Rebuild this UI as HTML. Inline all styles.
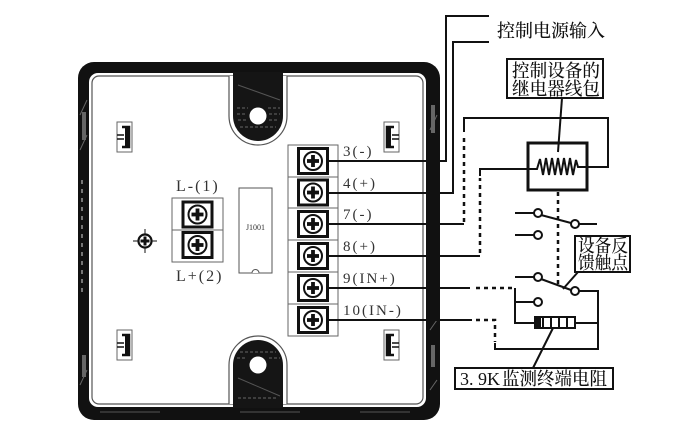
<!DOCTYPE html>
<html><head><meta charset="utf-8"><style>
html,body{margin:0;padding:0;background:#fff;width:700px;height:436px;overflow:hidden}
svg{display:block}
.lbl{font-family:"Liberation Serif","Noto Serif CJK SC",serif;font-size:15px;fill:#333;letter-spacing:2px}
.cn{font-family:"Liberation Serif","Noto Serif CJK SC",serif;font-size:18px;fill:#111;font-weight:500}
</style></head><body>
<svg width="700" height="436" viewBox="0 0 700 436" xmlns="http://www.w3.org/2000/svg">
<defs>
<g id="scr">
<rect x="-14.5" y="-12.5" width="29" height="25" fill="#fff" stroke="#111" stroke-width="3"/>
<circle r="9" fill="#fff" stroke="#111" stroke-width="2"/>
<rect x="-6" y="-1.9" width="12" height="3.8" fill="#111"/>
<rect x="-1.9" y="-6" width="3.8" height="12" fill="#111"/>
</g>
<g id="clipL">
<rect x="0" y="0" width="15" height="30" fill="#fff" stroke="#666" stroke-width="1"/>
<path d="M5,5 H12 V25 H5" fill="none" stroke="#111" stroke-width="2.5"/>
<rect x="8" y="6" width="3" height="18" fill="#111"/>
<path d="M0,13 H7 M0,17 H7" stroke="#111" stroke-width="1.5"/>
</g>
<g id="clipR">
<rect x="0" y="0" width="15" height="30" fill="#fff" stroke="#666" stroke-width="1"/>
<path d="M10,5 H3 V25 H10" fill="none" stroke="#111" stroke-width="2.5"/>
<rect x="4" y="6" width="3" height="18" fill="#111"/>
<path d="M8,13 H15 M8,17 H15" stroke="#111" stroke-width="1.5"/>
</g>
</defs>

<!-- Case -->
<rect x="78" y="62" width="362" height="358" rx="16" fill="#111"/>
<rect x="89" y="73" width="337" height="334" rx="9" fill="#fff"/>
<rect x="92" y="76" width="331" height="328" rx="7" fill="none" stroke="#555" stroke-width="1.2"/>
<!-- band decorations -->
<path d="M82,180 V297" stroke="#bbb" stroke-width="1.2" stroke-dasharray="4,5"/>
<path d="M80,115 L87,100 M80,150 L87,135 M80,385 L87,370 M430,130 L437,115 M430,330 L437,320 M430,390 L437,380" stroke="#666" stroke-width="1"/>
<rect x="82" y="112" width="4" height="28" fill="#666"/>
<rect x="82" y="355" width="4" height="22" fill="#666"/>
<rect x="431" y="105" width="4" height="28" fill="#666"/>
<rect x="431" y="345" width="4" height="22" fill="#666"/>
<path d="M100,412 H160 M240,412 H300 M360,412 H410" stroke="#555" stroke-width="1"/>

<!-- top tab -->
<path d="M229,76 V116 A29,29 0 0 0 287,116 V76" fill="#fff" stroke="#555" stroke-width="1.2"/>
<path d="M233,72 V116 A25,25 0 0 0 283,116 V72 Z" fill="#151515"/>
<path d="M238,85 L280,100" stroke="#555" stroke-width="1"/>
<path d="M237,108 H248 M268,108 H280 M237,114 H247 M269,114 H280 M238,120 H247 M269,120 H279 M240,127 H276" stroke="#666" stroke-width="1" stroke-dasharray="3,2"/>
<circle cx="258" cy="116" r="8.5" fill="#fff"/>
<!-- bottom tab -->
<path d="M229,404 V365 A29,29 0 0 1 287,365 V404" fill="#fff" stroke="#555" stroke-width="1.2"/>
<path d="M233,408 V365 A25,25 0 0 1 283,365 V408 Z" fill="#151515"/>
<path d="M238,378 L280,396" stroke="#555" stroke-width="1"/>
<path d="M240,352 H276 M237,358 H247 M269,358 H280 M238,398 H278" stroke="#666" stroke-width="1" stroke-dasharray="3,2"/>
<circle cx="258" cy="365" r="8.5" fill="#fff"/>

<!-- clips -->
<use href="#clipL" x="117" y="122"/>
<use href="#clipL" x="117" y="330"/>
<use href="#clipR" x="384" y="122"/>
<use href="#clipR" x="384" y="330"/>

<!-- crosshair -->
<path d="M133,241 H157 M145,229 V253" stroke="#111" stroke-width="1"/>
<circle cx="145" cy="241" r="6.5" fill="#fff" stroke="#111" stroke-width="2.2"/>
<rect x="140.5" y="239.5" width="9" height="3" fill="#111"/>
<rect x="143.5" y="236.5" width="3" height="9" fill="#111"/>

<!-- left terminal block -->
<rect x="172" y="198" width="51" height="64" fill="#fff" stroke="#666" stroke-width="1"/>
<path d="M172,230 H223" stroke="#666" stroke-width="1"/>
<use href="#scr" x="197.5" y="214.5"/>
<use href="#scr" x="197.5" y="245"/>
<text x="176" y="191" class="lbl" style="font-size:16px">L-(1)</text>
<text x="176" y="281" class="lbl" style="font-size:16px">L+(2)</text>

<!-- J1001 -->
<rect x="239" y="188" width="33" height="85" fill="#fff" stroke="#555" stroke-width="1"/>
<path d="M252,273 A3.5,3.5 0 0 1 259,273" fill="#fff" stroke="#555" stroke-width="1"/>
<text x="255.5" y="230" text-anchor="middle" style="font-family:'Liberation Serif',serif;font-size:8px;fill:#333">J1001</text>

<!-- right terminal block -->
<rect x="288" y="145" width="50" height="191" fill="#fff" stroke="#666" stroke-width="1"/>
<path d="M288,177 H338 M288,208 H338 M288,240 H338 M288,272 H338 M288,304 H338" stroke="#666" stroke-width="1"/>
<use href="#scr" x="313" y="161"/>
<use href="#scr" x="313" y="192.5"/>
<use href="#scr" x="313" y="224"/>
<use href="#scr" x="313" y="256"/>
<use href="#scr" x="313" y="288"/>
<use href="#scr" x="313" y="320"/>
<text x="343" y="156" class="lbl">3(-)</text>
<text x="343" y="188" class="lbl">4(+)</text>
<text x="343" y="219" class="lbl">7(-)</text>
<text x="343" y="251" class="lbl">8(+)</text>
<text x="343" y="283" class="lbl">9(IN+)</text>
<text x="343" y="315" class="lbl">10(IN-)</text>

<!-- wires -->
<g fill="none" stroke="#111" stroke-width="2">
<path d="M328,161 H446 V16 H489"/>
<path d="M328,193 H453 V42 H489"/>
<path d="M328,224 H464"/>
<path d="M464,132 V118 H608 V167 H587"/>
<path d="M328,256 H480"/>
<path d="M480,176 V169 H528"/>
<path d="M328,288 H470"/>
<path d="M515,288 V323 H535"/>
<path d="M515,302 H534"/>
<path d="M575,323 H598"/>
<path d="M579,291 H598 V349 H495 V343"/>
<path d="M328,320 H472"/>
<!-- switches -->
<path d="M515,213 H534"/>
<path d="M541,215 L571,223"/>
<path d="M579,224 H597"/>
<path d="M515,235 H534"/>
<path d="M515,277 H534"/>
<path d="M541,279 L571,290"/>
</g>
<g fill="none" stroke="#111" stroke-width="2.5" stroke-dasharray="4,4">
<path d="M464,222 V134"/>
<path d="M480,253 V178"/>
<path d="M558,192 V287"/>
<path d="M476,288 H512"/>
<path d="M476,320 H495 V342"/>
</g>
<g fill="#fff" stroke="#111" stroke-width="2">
<circle cx="538" cy="213" r="4"/>
<circle cx="575" cy="224" r="4"/>
<circle cx="538" cy="235" r="4"/>
<circle cx="538" cy="277" r="4"/>
<circle cx="575" cy="291" r="4"/>
<circle cx="538" cy="302" r="4"/>
</g>

<!-- relay coil -->
<rect x="528" y="143" width="59" height="47" fill="#fff" stroke="#111" stroke-width="3"/>
<path d="M528,169 H537 L540,159 L543,175 L546,158 L549,175 L552,158 L555,175 L558,158 L561,175 L564,158 L567,175 L570,158 L573,175 L576,160 L578,167 H587" fill="none" stroke="#111" stroke-width="2"/>

<!-- resistor -->
<rect x="535" y="317" width="40" height="11" fill="#fff" stroke="#111" stroke-width="2"/>
<rect x="535" y="317" width="6" height="11" fill="#111"/>
<path d="M543,317 V328 M551,317 V328 M559,317 V328 M567,317 V328" stroke="#111" stroke-width="2"/>

<!-- leaders -->
<path d="M562,98 L558,152" stroke="#111" stroke-width="2"/>
<path d="M553,328 L533,368" stroke="#111" stroke-width="2"/>
<path d="M578,272 L563,289" stroke="#111" stroke-width="2"/>

<!-- labels -->
<text x="497" y="37" class="cn" textLength="108" lengthAdjust="spacingAndGlyphs">控制电源输入</text>
<rect x="507" y="59" width="96" height="39" fill="#fff" stroke="#111" stroke-width="2"/>
<text x="512" y="77" class="cn" textLength="88" lengthAdjust="spacingAndGlyphs">控制设备的</text>
<text x="512" y="95" class="cn" textLength="88" lengthAdjust="spacingAndGlyphs">继电器线包</text>
<rect x="575" y="236" width="55" height="36" fill="#fff" stroke="#111" stroke-width="2"/>
<text x="578" y="252" class="cn" textLength="50" lengthAdjust="spacingAndGlyphs">设备反</text>
<text x="578" y="269" class="cn" textLength="50" lengthAdjust="spacingAndGlyphs">馈触点</text>
<rect x="455" y="368" width="158" height="21" fill="#fff" stroke="#111" stroke-width="2"/>
<text x="460" y="385" style="font-family:'Liberation Serif',serif;font-size:18px;fill:#111" textLength="40" lengthAdjust="spacingAndGlyphs">3. 9K</text>
<text x="502" y="385" class="cn" textLength="105" lengthAdjust="spacingAndGlyphs">监测终端电阻</text>
</svg>
</body></html>
